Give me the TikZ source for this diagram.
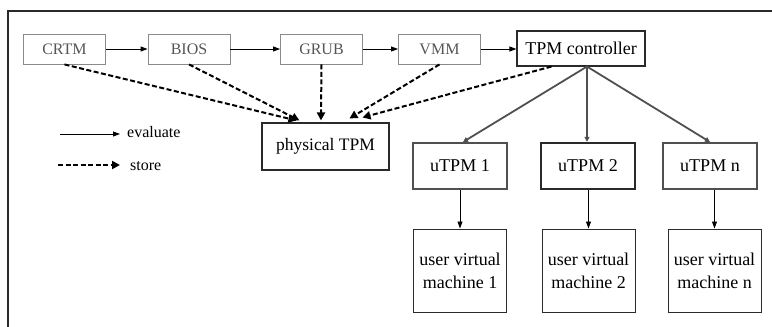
\documentclass[tikz,border=0pt]{standalone}
\usepackage{fontspec}
\setmainfont{Liberation Serif}
\usetikzlibrary{arrows.meta,calc}

\definecolor{lightframe}{HTML}{8A8A8A}
\definecolor{lighttext}{HTML}{555555}
\definecolor{midgray}{HTML}{505050}
\definecolor{darkline}{HTML}{2A2A2A}

\tikzset{
  stage/.style={draw=lightframe, line width=0.9pt, text=lighttext,
    minimum width=82pt, minimum height=30pt, inner sep=0pt, font=\fontsize{16}{18}\selectfont},
  ctrlbox/.style={draw=darkline, line width=1.1pt, minimum width=128pt, minimum height=35pt,
    inner sep=0pt, font=\fontsize{18}{20}\selectfont},
  hwbox/.style={draw=darkline, line width=1.1pt, minimum width=127pt, minimum height=47pt,
    inner sep=0pt, font=\fontsize{17.5}{20}\selectfont},
  utpm/.style={draw=midgray, line width=2pt, minimum width=94pt, minimum height=46pt,
    inner sep=0pt, font=\fontsize{18}{20}\selectfont},
  utpmbold/.style={utpm, draw=darkline, line width=2.4pt},
  vmbox/.style={draw=darkline, line width=1pt, minimum width=93pt, minimum height=83pt,
    inner sep=0pt, align=center, font=\fontsize{18}{23}\selectfont},
  legendtxt/.style={anchor=west, inner sep=0pt, font=\fontsize{16}{18}\selectfont},
  evalarrow/.style={line width=0.9pt, -{Triangle[length=7pt,width=5pt]}},
  storearrow/.style={line width=2pt, dash pattern=on 5pt off 2.5pt,
    -{Triangle[length=8pt,width=8pt]}},
  spawnarrow/.style={draw=midgray, line width=1.8pt, -{Triangle[length=5pt,width=5pt]}},
}

\begin{document}
\begin{tikzpicture}[x=1pt, y=-1pt]
  \useasboundingbox (0,0) rectangle (772,327);

  % outer frame (only top and left edges are visible)
  \draw[darkline, line width=1.4pt] (8,327) -- (8,11) -- (772,11);

  % measured boot chain
  \node[stage] (crtm) at (64.5,49) {CRTM};
  \node[stage] (bios) at (189,49) {BIOS};
  \node[stage] (grub) at (321.5,49) {GRUB};
  \node[stage] (vmm) at (439.5,49) {VMM};
  \node[ctrlbox] (ctrl) at (581,48.5) {TPM controller};

  % hardware TPM
  \node[hwbox] (ptpm) at (325.5,146.5) {physical TPM};

  % virtual TPM instances
  \node[utpm] (u1) at (460,166) {uTPM 1};
  \node[utpmbold] (u2) at (588,166) {uTPM 2};
  \node[utpm] (un) at (710,166) {uTPM n};

  % guest machines
  \node[vmbox] (vm1) at (460,270.5) {user virtual\\machine 1};
  \node[vmbox] (vm2) at (588.5,270.5) {user virtual\\machine 2};
  \node[vmbox] (vmn) at (714.5,270.5) {user virtual\\machine n};

  % evaluate chain
  \draw[evalarrow] (crtm) -- (bios);
  \draw[evalarrow] (bios) -- (grub);
  \draw[evalarrow] (grub) -- (vmm);
  \draw[evalarrow] (vmm) -- (ctrl.west |- vmm);

  % store measurements into the physical TPM
  \coordinate (ctrlstore) at ($(ctrl.south west)+(35,0)$);
  \coordinate (in1) at ($(ptpm.north west)+(35,-2)$);
  \coordinate (in2) at ($(ptpm.north west)+(38,-2)$);
  \coordinate (in3) at ($(ptpm.north west)+(59.5,-2)$);
  \coordinate (in4) at ($(ptpm.north west)+(88,-4)$);
  \coordinate (in5) at ($(ptpm.north west)+(101,-5)$);
  \draw[storearrow] (crtm.south) -- (in1);
  \draw[storearrow] (bios.south) -- (in2);
  \draw[storearrow] (grub.south) -- (in3);
  \draw[storearrow] (vmm.south) -- (in4);
  \draw[storearrow] (ctrlstore) -- (in5);

  % controller spawns virtual TPMs
  \coordinate (ctrlout) at ($(ctrl.south)+(6,0)$);
  \draw[spawnarrow] (ctrlout) -- ($(u1.north)+(3,0)$);
  \draw[spawnarrow] (ctrlout) -- (u2.north -| ctrlout);
  \draw[spawnarrow] (ctrlout) -- (un.north);

  % virtual TPMs serve guests
  \draw[evalarrow] (u1) -- (vm1);
  \draw[evalarrow] (u2.south -| vm2.north) -- (vm2.north);
  \draw[evalarrow] (un.south -| vmn.north) -- (vmn.north);

  % legend
  \node[legendtxt] (evtxt) at (127,132) {evaluate};
  \node[legendtxt] (sttxt) at (130,166) {store};
  \coordinate (ev0) at (60,134);
  \coordinate (st0) at (58,165);
  \draw[evalarrow] (ev0) -- ($(evtxt.west |- ev0)+(-7,0)$);
  \draw[storearrow] (st0) -- ($(sttxt.west |- st0)+(-10,0)$);
\end{tikzpicture}
\end{document}
